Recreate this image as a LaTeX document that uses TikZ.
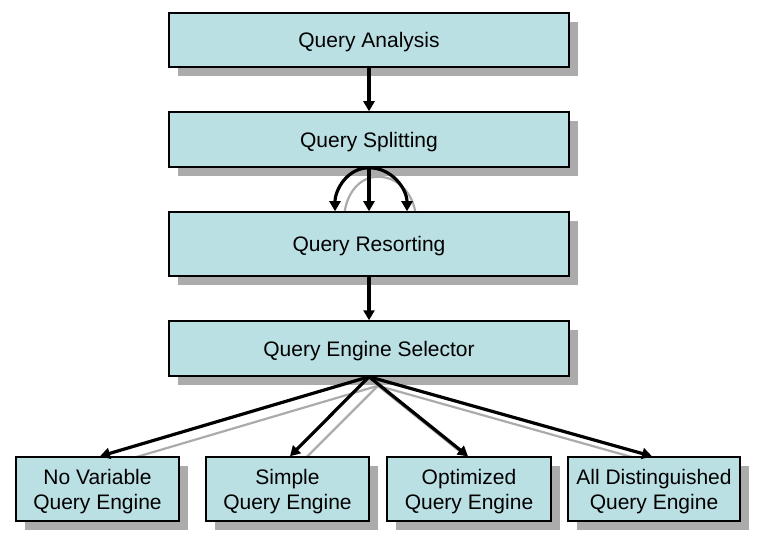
\documentclass[tikz,border=0pt]{standalone}
\usepackage{fontspec}
\setmainfont{Liberation Sans}
\usetikzlibrary{arrows.meta,shadows,calc,backgrounds}
\definecolor{boxfill}{HTML}{BBE0E3}
\definecolor{shade}{HTML}{ABABAB}
\tikzset{
  box/.style={draw=black, line width=1.5pt, fill=boxfill, inner sep=0pt,
    font=\fontsize{21}{25}\selectfont, align=center, text depth=0pt,
    drop shadow={shadow xshift=9pt, shadow yshift=-9pt, fill=shade, opacity=1, draw=none}},
  arr/.style={line width=3.2pt, -{Triangle[length=10pt,width=11pt]}},
  shadowline/.style={line width=2.2pt, draw=shade}
}
\begin{document}
\begin{tikzpicture}[x=1pt,y=-1pt]
\useasboundingbox (0,0) rectangle (759,545);
\node[box, minimum width=400, minimum height=54] (ana) at (369,40) {Query Analysis};
\node[box, minimum width=400, minimum height=55] (spl) at (369,139.5) {Query Splitting};
\node[box, minimum width=400, minimum height=64] (res) at (369,244) {Query Resorting};
\node[box, minimum width=400, minimum height=55] (sel) at (369,348.5) {Query Engine Selector};
\node[box, minimum width=163, minimum height=64] (nv) at (97.5,489) {No Variable\\Query Engine};
\node[box, minimum width=163, minimum height=64] (sq) at (287.5,489) {Simple\\Query Engine};
\node[box, minimum width=164, minimum height=64] (oq) at (469,489) {Optimized\\Query Engine};
\node[box, minimum width=172, minimum height=64] (aq) at (654,489) {All Distinguished\\Query Engine};

\begin{pgfonlayer}{background}
  \draw[shadowline] ($(spl.south)+(9,9)$) to[out=180,in=90] ($(res.north)+(-25,9)$);
  \draw[shadowline] ($(spl.south)+(9,9)$) to[out=0,in=90] ($(res.north)+(47,9)$);
  \draw[shadowline] ($(sel.south)+(9,9)$) -- ($(nv.north)+(11,9)$);
  \draw[shadowline] ($(sel.south)+(9,9)$) -- ($(sq.north)+(11,9)$);
  \draw[shadowline] ($(sel.south)+(9,9)$) -- ($(oq.north)+(8,9)$);
  \draw[shadowline] ($(sel.south)+(9,9)$) -- ($(aq.north)+(7,9)$);
\end{pgfonlayer}

\draw[arr] (ana.south) -- (spl.north);
\draw[arr] (spl.south) -- (res.north);
\draw[arr] (spl.south) to[out=180,in=90] ($(res.north)+(-34,0)$);
\draw[arr] (spl.south) to[out=0,in=90] ($(res.north)+(38,0)$);
\draw[arr] (res.south) -- (sel.north);
\draw[arr] (sel.south) -- ($(nv.north)+(2.5,0)$);
\draw[arr] (sel.south) -- ($(sq.north)+(2.5,0)$);
\draw[arr] (sel.south) -- ($(oq.north)+(-1,0)$);
\draw[arr] (sel.south) -- ($(aq.north)+(-2,0)$);
\end{tikzpicture}
\end{document}
